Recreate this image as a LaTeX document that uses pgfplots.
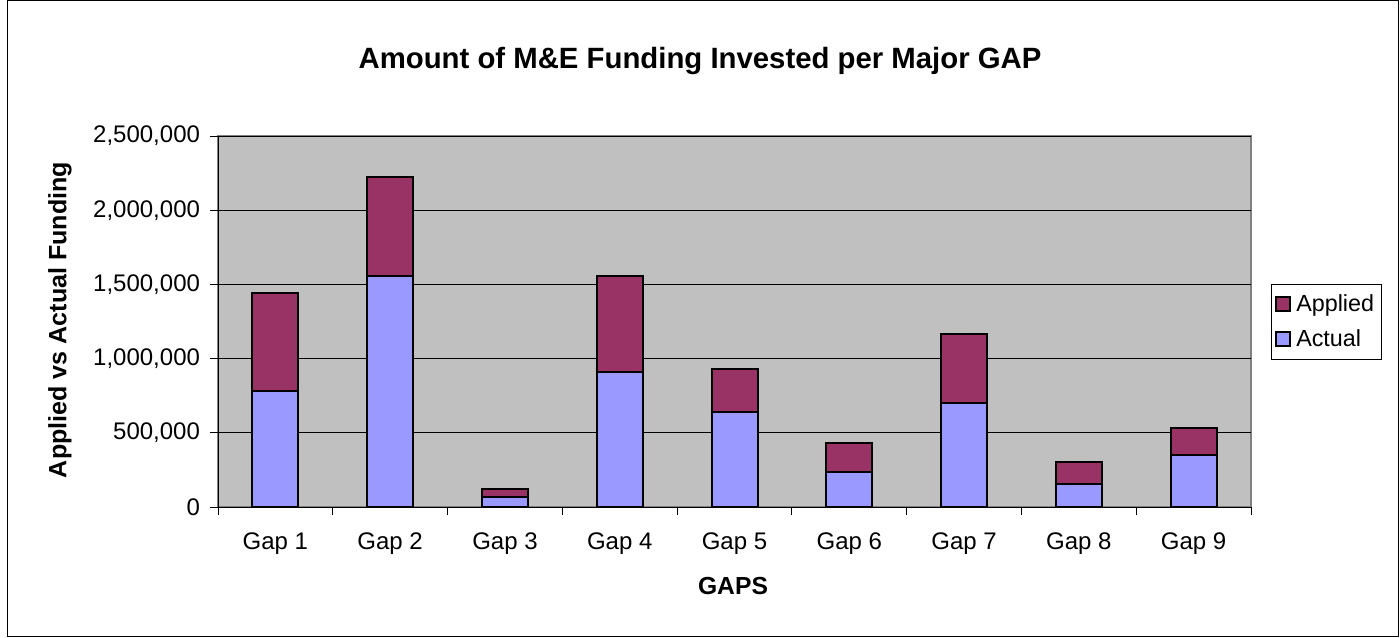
\documentclass[border=0pt]{standalone}
\usepackage{pgfplots}
\pgfplotsset{compat=1.18}
\usepackage{fontspec}
\setmainfont{Liberation Sans}
\definecolor{applied}{HTML}{993366}
\definecolor{actual}{HTML}{9999FF}
\definecolor{plotbg}{HTML}{C0C0C0}
\begin{document}
\begin{tikzpicture}
\useasboundingbox (0,0) rectangle (1050pt,477.75pt);
\draw[line width=0.75pt] (5.25pt,0.75pt) rectangle (1049pt,477pt);
\begin{axis}[
  at={(163.5pt,97.5pt)}, anchor=south west,
  scale only axis, width=774.75pt, height=278.25pt,
  ybar stacked, bar width=34.5pt,
  xmin=-0.5, xmax=8.5, ymin=0, ymax=2500000,
  xtick={0,...,8},
  xticklabels={Gap 1,Gap 2,Gap 3,Gap 4,Gap 5,Gap 6,Gap 7,Gap 8,Gap 9},
  major x tick style={draw=none},
  minor xtick={-0.5,0.5,...,8.5},
  minor tick length=6pt,
  ytick={0,500000,...,2500000},
  major tick length=6pt,
  tick align=outside,
  tick style={black, line width=0.75pt},
  scaled y ticks=false,
  yticklabel style={xshift=-4pt, /pgf/number format/fixed, /pgf/number format/1000 sep={,}},
  /pgf/number format/assume math mode=true,
  ticklabel style={font=\fontsize{18}{20}\selectfont},
  xticklabel style={yshift=-10pt},
  ymajorgrids, grid style={black, line width=0.75pt},
  axis x line*=bottom, axis y line*=left,
  axis line style={black, line width=0.75pt, -},
  axis background/.style={fill=plotbg, draw=gray, line width=1.5pt},
  legend style={at={(1,0.5)}, anchor=west, xshift=15pt, draw=black, fill=white,
    font=\fontsize{17.5}{19}\selectfont, row sep=8pt, inner xsep=3pt, inner ysep=6pt,
    cells={anchor=west}},
  reverse legend,
  legend image code/.code={\draw[#1, draw=black, line width=1.5pt] (0pt,-5pt) rectangle (10pt,5pt); \path[draw=none, fill=none] (13pt,0pt);},
  every axis plot/.append style={draw=black, line width=1.5pt},
]
\addplot[fill=actual] coordinates {(0,779000) (1,1557000) (2,65000) (3,911000) (4,640000) (5,239000) (6,702000) (7,155000) (8,348000)};
\addplot[fill=applied] coordinates {(0,662000) (1,669000) (2,58000) (3,649000) (4,292000) (5,191000) (6,463000) (7,146000) (8,185000)};
\legend{Actual,Applied}
\end{axis}
\node[font=\bfseries\fontsize{22}{26}\selectfont] at (525pt,432pt) {Amount of M\&E Funding Invested per Major GAP};
\node[font=\bfseries\fontsize{18.8}{22}\selectfont, rotate=90] at (45pt,237.75pt) {Applied vs Actual Funding};
\node[font=\bfseries\fontsize{18.5}{22}\selectfont] at (549.75pt,38.25pt) {GAPS};
\end{tikzpicture}
\end{document}
